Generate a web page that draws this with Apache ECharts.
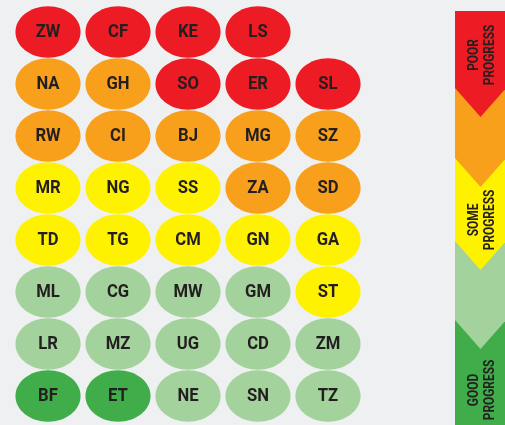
<!DOCTYPE html>
<html>
<head>
<meta charset="utf-8">
<script src="https://cdn.jsdelivr.net/npm/echarts@6/dist/echarts.min.js"></script>
<style>
html,body{margin:0;padding:0;background:#eff0f2;}
#chart{width:505px;height:425px;}
</style>
</head>
<body>
<div id="chart"></div>
<script>
// country codes, row by row (top to bottom)
var rowCodes = [
	['ZW','CF','KE','LS'],
	['NA','GH','SO','ER','SL'],
	['RW','CI','BJ','MG','SZ'],
	['MR','NG','SS','ZA','SD'],
	['TD','TG','CM','GN','GA'],
	['ML','CG','MW','GM','ST'],
	['LR','MZ','UG','CD','ZM'],
	['BF','ET','NE','SN','TZ']
];
// progress level per cell: 0 poor .. 4 good
var rowLevels = [
	[0,0,0,0],
	[1,1,0,0,0],
	[1,1,1,1,1],
	[2,2,2,1,1],
	[2,2,2,2,2],
	[3,3,3,3,2],
	[3,3,3,3,3],
	[4,4,3,3,3]
];
var levelColors = ['#ed1c24','#f89f1b','#fff200','#a4d29c','#40ad4a'];
var legendLabels = ['POOR\nPROGRESS','SOME\nPROGRESS','GOOD\nPROGRESS'];

var cells = [];
for(var r=0;r<rowCodes.length;r++){
	for(var c=0;c<rowCodes[r].length;c++){
		cells.push({value:[c,r,rowLevels[r][c]],name:rowCodes[r][c]});
	}
}

var font = 'Roboto';

// legend arrow (bottom segment first, chevrons layered on top)
var bx0 = 455, bx1 = 506, bmid = 480.5, btop = 11, bbot = 425, dip = 29;
var cuts = [88,158,241,320];
var graphics = [{
	type:'rect', z:1,
	shape:{x:bx0,y:btop,width:bx1-bx0,height:bbot-btop},
	style:{fill:levelColors[4]}
}];
for(var i=cuts.length-1;i>=0;i--){
	graphics.push({
		type:'polygon', z:2+(cuts.length-i),
		shape:{points:[[bx0,btop],[bx1,btop],[bx1,cuts[i]],[bmid,cuts[i]+dip],[bx0,cuts[i]]]},
		style:{fill:levelColors[i]}
	});
}
var labelY = [55,220,390];
for(var k=0;k<legendLabels.length;k++){
	graphics.push({
		type:'text', z:20,
		x:482, y:labelY[k], rotation:Math.PI/2, scaleX:0.85,
		style:{
			text:legendLabels[k],
			fill:'#231f20',
			fontFamily:font,
			fontWeight:'bold',
			fontSize:14,
			lineHeight:16,
			align:'center',
			verticalAlign:'middle'
		}
	});
}

function renderCell(params, api){
	var p = api.coord([api.value(0), api.value(1)]);
	var s = api.size([1,1]);
	return {
		type:'group',
		children:[{
			type:'ellipse',
			shape:{cx:p[0],cy:p[1],rx:s[0]*0.465,ry:s[1]*0.495},
			style:{fill:levelColors[api.value(2)]}
		},{
			type:'text',
			x:p[0], y:p[1], scaleX:0.9,
			style:{
				text:cells[params.dataIndex].name,
				fill:'#231f20',
				fontFamily:font,
				fontWeight:'bold',
				fontSize:18.5,
				align:'center',
				verticalAlign:'middle'
			}
		}]
	};
}

var chart = echarts.init(document.getElementById('chart'));
chart.setOption({
	backgroundColor:'#eff0f2',
	animation:false,
	grid:{left:13,top:6,width:350,height:416},
	xAxis:{type:'value',min:-0.5,max:4.5,show:false},
	yAxis:{type:'value',min:-0.5,max:7.5,inverse:true,show:false},
	series:[{
		type:'custom',
		renderItem:renderCell,
		data:cells
	}],
	graphic:graphics
});
</script>
</body>
</html>
